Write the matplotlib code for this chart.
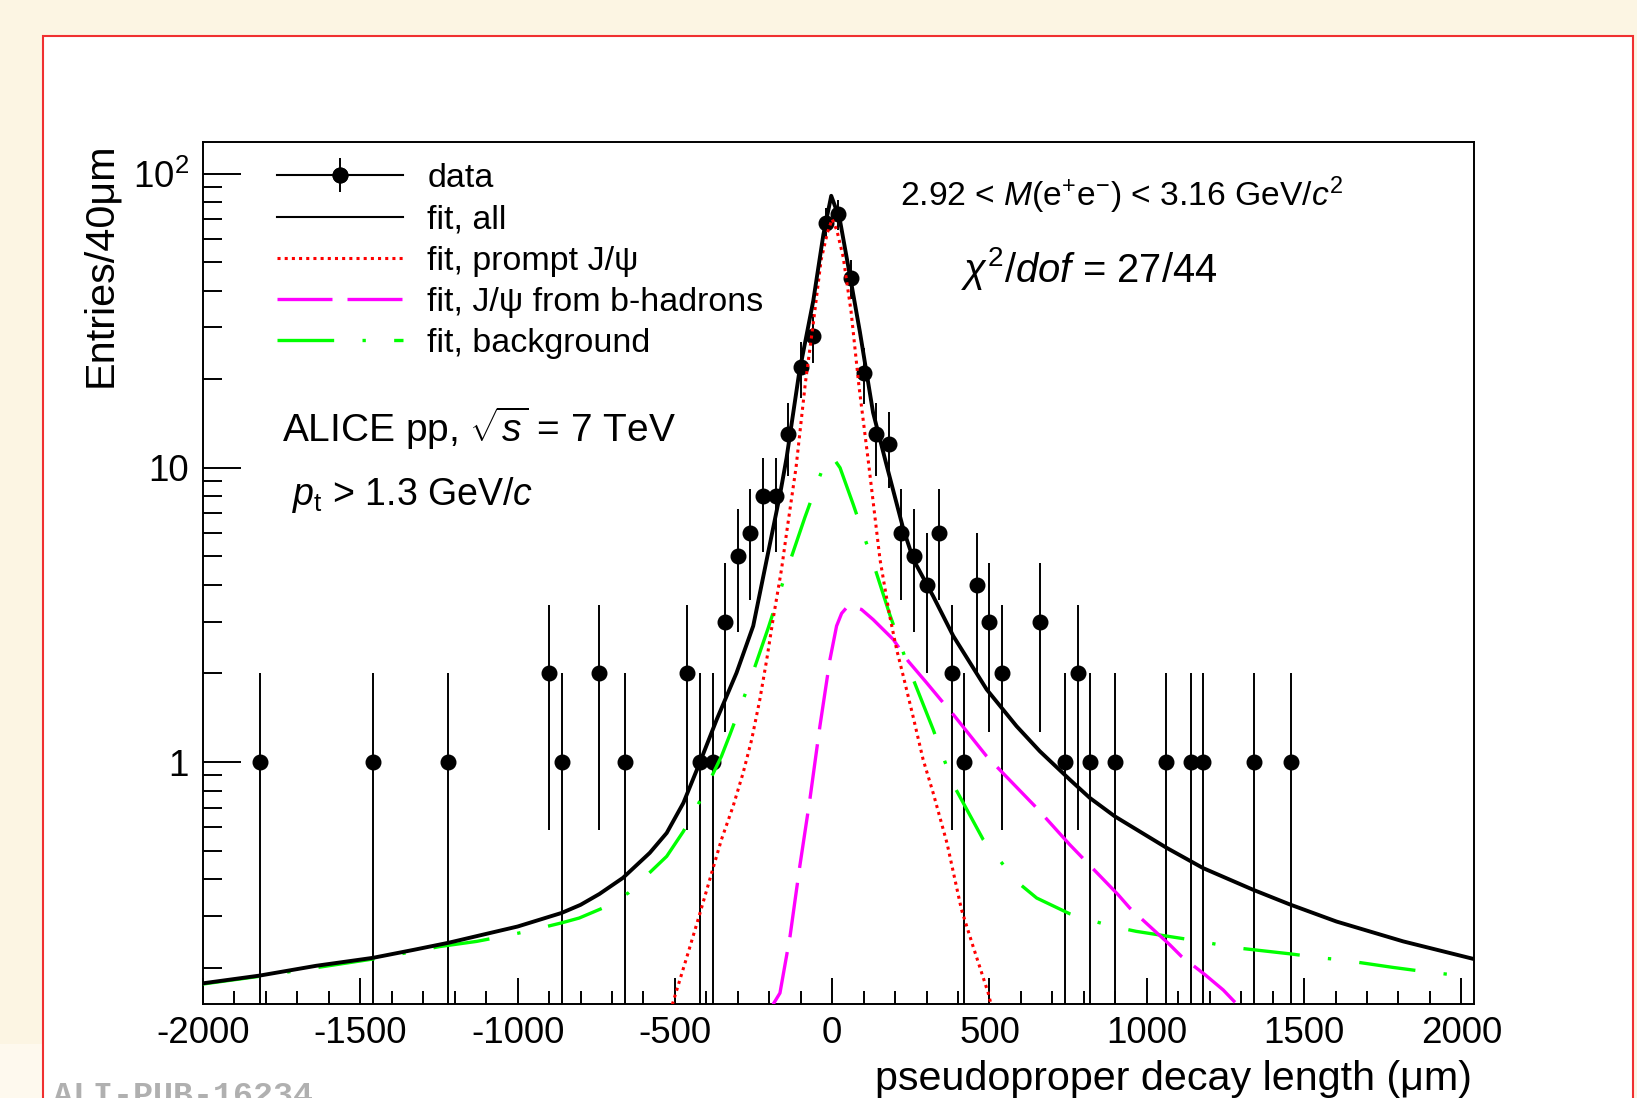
import numpy as np
import matplotlib.pyplot as plt
from matplotlib.lines import Line2D
from matplotlib.patches import Rectangle
from matplotlib.ticker import (FixedLocator, FixedFormatter, MultipleLocator,
                               LogLocator, NullFormatter)

plt.rcParams['font.family'] = ['Liberation Sans', 'DejaVu Sans']
plt.rcParams['mathtext.fontset'] = 'custom'
plt.rcParams['mathtext.rm'] = 'Liberation Sans'
plt.rcParams['mathtext.it'] = 'Liberation Sans:italic'
plt.rcParams['mathtext.bf'] = 'Liberation Sans:bold'
plt.rcParams['axes.unicode_minus'] = False

# histogram: bin centres (um, 40 um bins) and entries
decay_len = [-1820, -1460, -1220, -900, -860, -740, -660, -460, -420, -380,
             -340, -300, -260, -220, -180, -140, -100, -60, -20, 20,
             60, 100, 140, 180, 220, 260, 300, 340, 380, 420,
             460, 500, 540, 660, 740, 780, 820, 900, 1060, 1140,
             1180, 1340, 1460]
entries = [1, 1, 1, 2, 1, 2, 1, 2, 1, 1,
           3, 5, 6, 8, 8, 13, 22, 28, 68, 73,
           44, 21, 13, 12, 6, 5, 4, 6, 2, 1,
           4, 3, 2, 3, 1, 2, 1, 1, 1, 1,
           1, 1, 1]

# fit curves (total and components)
fit_all_x = [-2000, -1820, -1640, -1460, -1330, -1220, -1110, -1000, -860, -800,
             -740, -665, -580, -526, -473, -421, -367, -304, -251, -208,
             -165, -145, -105, -60, -28, -3, 24, 58, 88, 130,
             173, 226, 258, 321, 385, 491, 586, 660, 755, 819,
             898, 1063, 1179, 1338, 1455, 1603, 1815, 2040]
fit_all_y = [0.177, 0.188, 0.203, 0.216, 0.230, 0.243, 0.259, 0.276, 0.307, 0.327,
             0.356, 0.404, 0.491, 0.574, 0.726, 0.994, 1.395, 2.01, 2.90, 4.88,
             8.2, 10.8, 21, 37, 62, 84, 70, 44, 29, 15.4,
             10.2, 6.2, 4.88, 3.66, 2.68, 1.765, 1.324, 1.088, 0.872, 0.755,
             0.654, 0.511, 0.436, 0.368, 0.328, 0.287, 0.2457, 0.214]

prompt_x = [-508, -458, -420, -383, -352, -315, -283, -256, -230, -208,
            -188, -161, -145, -115, -85, -60, -35, -15, 0, 15,
            35, 60, 85, 115, 152, 183, 205, 226, 257, 289,
            321, 365, 411, 448, 496, 505]
prompt_y = [0.15, 0.2245, 0.307, 0.42, 0.545, 0.707, 0.919, 1.19, 1.63, 2.23,
            3.05, 4.52, 6.0, 10.0, 19.5, 31, 51, 63, 70, 64,
            52, 34, 19, 10.5, 4.88, 3.13, 2.41, 1.96, 1.43, 1.02,
            0.785, 0.53, 0.315, 0.236, 0.164, 0.15]

bhad_x = [-188, -166, -134, -103, -71, -39, -7, 14, 30, 46,
          60, 93, 130, 194, 242, 300, 353, 385, 491, 650,
          755, 909, 946, 1073, 1110, 1186, 1243, 1287]
bhad_y = [0.15, 0.164, 0.2555, 0.442, 0.745, 1.324, 2.232, 2.90, 3.2, 3.35,
          3.38, 3.30, 3.05, 2.61, 2.20, 1.86, 1.59, 1.45, 1.046, 0.698,
          0.524, 0.354, 0.319, 0.2394, 0.2186, 0.189, 0.168, 0.15]

bkg_x = [-2000, -1820, -1460, -1247, -1130, -1035, -971, -860, -804, -717,
         -648, -584, -526, -473, -426, -352, -325, -267, -203, -150,
         -87, -28, -2, 25, 67, 130, 183, 247, 321, 385,
         480, 586, 650, 755, 797, 891, 967, 1137, 1290, 1460,
         1555, 1614, 1783, 1878, 1995]
bkg_y = [0.176, 0.187, 0.214, 0.236, 0.2457, 0.257, 0.2657, 0.284, 0.295, 0.323,
         0.359, 0.417, 0.478, 0.581, 0.717, 1.046, 1.24, 1.81, 2.86, 4.29,
         6.77, 10.1, 11.0, 10.0, 7.5, 4.76, 3.17, 2.04, 1.29, 0.838,
         0.545, 0.393, 0.345, 0.305, 0.295, 0.2763, 0.2657, 0.249, 0.2333, 0.2226,
         0.2158, 0.213, 0.2004, 0.1943, 0.1879]

fig = plt.figure(figsize=(16.37, 10.98), dpi=100, facecolor='#fcf5e3')

# page frame, kept behind the axes
fig.patches.append(Rectangle((0, 0), 0.0263, 0.049, transform=fig.transFigure,
                             facecolor='#fef9ee', edgecolor='none', zorder=-2))
fig.patches.append(Rectangle((0.0263, -0.02), 0.9713, 0.9872, transform=fig.transFigure,
                             facecolor='white', edgecolor='#f03030', lw=1.5, zorder=-1))

ax = fig.add_axes([0.1240, 0.0852, 0.7764, 0.7855])
ax.set_yscale('log')

eb = ax.errorbar(decay_len, entries, yerr=np.sqrt(entries), fmt='o', color='black',
                 ms=10.5, elinewidth=1.4, capsize=0, zorder=2)

bkg_line, = ax.plot(bkg_x, bkg_y, color='#00ff00', lw=2.4,
                    linestyle=(0, (17, 8.5, 1, 8.5)), zorder=3)
bhad_line, = ax.plot(bhad_x, bhad_y, color='#ff00ff', lw=2.4,
                     linestyle=(0, (16.5, 4.5)), zorder=3)
prompt_line, = ax.plot(prompt_x, prompt_y, color='#ff0000', lw=2.2,
                       linestyle=(0, (1, 1.35)), zorder=3)
ax.plot(fit_all_x, fit_all_y, color='black', lw=2.8, zorder=4)

ax.set_xlim(-2000, 2040)
ax.set_ylim(0.15, 128)

ax.xaxis.set_major_locator(FixedLocator(np.arange(-2000, 2001, 500)))
ax.xaxis.set_minor_locator(MultipleLocator(100))
ax.yaxis.set_major_locator(FixedLocator([1, 10, 100]))
ax.yaxis.set_major_formatter(FixedFormatter(['1', '10', r'$\mathregular{10^{2}}$']))
ax.yaxis.set_minor_locator(LogLocator(base=10, subs=np.arange(2, 10), numticks=20))
ax.yaxis.set_minor_formatter(NullFormatter())

ax.tick_params(axis='x', which='major', direction='in', length=18.7, width=1.4,
               labelsize=26.5, pad=8, top=False)
ax.tick_params(axis='x', which='minor', direction='in', length=9.4, width=1.4, top=False)
ax.tick_params(axis='y', which='major', direction='in', length=27, width=1.4,
               labelsize=26.5, pad=10, right=False)
ax.tick_params(axis='y', which='minor', direction='in', length=13.7, width=1.4, right=False)
for sp in ax.spines.values():
    sp.set_linewidth(1.4)

# legend
data_proxy = Line2D([], [], color='black', lw=1.5, marker='o', ms=10.5)
fit_proxy = Line2D([], [], color='black', lw=1.5)
ax.legend([(data_proxy, eb), fit_proxy, prompt_line, bhad_line, bkg_line],
          ['data', 'fit, all', 'fit, prompt J/ψ', 'fit, J/ψ from b-hadrons',
           'fit, background'],
          loc='upper left', bbox_to_anchor=(0.0582, 0.9752), borderaxespad=0,
          borderpad=0, frameon=False, fontsize=24.5, handlelength=3.7,
          handletextpad=0.72, labelspacing=0.30)

# annotations
fig.text(0.5498, 0.8124, r'2.92 < $M$(e$^{+}$e$^{-}$) < 3.16 GeV/$c^{2}$',
         fontsize=24.2, va='baseline')
fig.text(0.587, 0.7432, r'$\chi^{2}/dof$ = 27/44', fontsize=28.8, va='baseline')
fig.text(0.1723, 0.5977, r'ALICE pp, $\sqrt{s}$ = 7 TeV', fontsize=28, va='baseline')
fig.text(0.1784, 0.5401, r'$p_{\mathrm{t}}$ > 1.3 GeV/$c$', fontsize=27, va='baseline')

fig.text(0.061, 0.8707, 'Entries/40μm', rotation=90, ha='center', va='top',
         fontsize=29.8)
fig.text(0.8992, 0.0073, 'pseudoproper decay length (μm)', ha='right',
         va='baseline', fontsize=29.7)

fig.text(0.0324, 0.0155, 'ALI-PUB-16234', family='Liberation Mono', weight='bold',
         color='#b0b0b0', fontsize=24, va='top')

fig.savefig('out.png', dpi=100, facecolor=fig.get_facecolor())
